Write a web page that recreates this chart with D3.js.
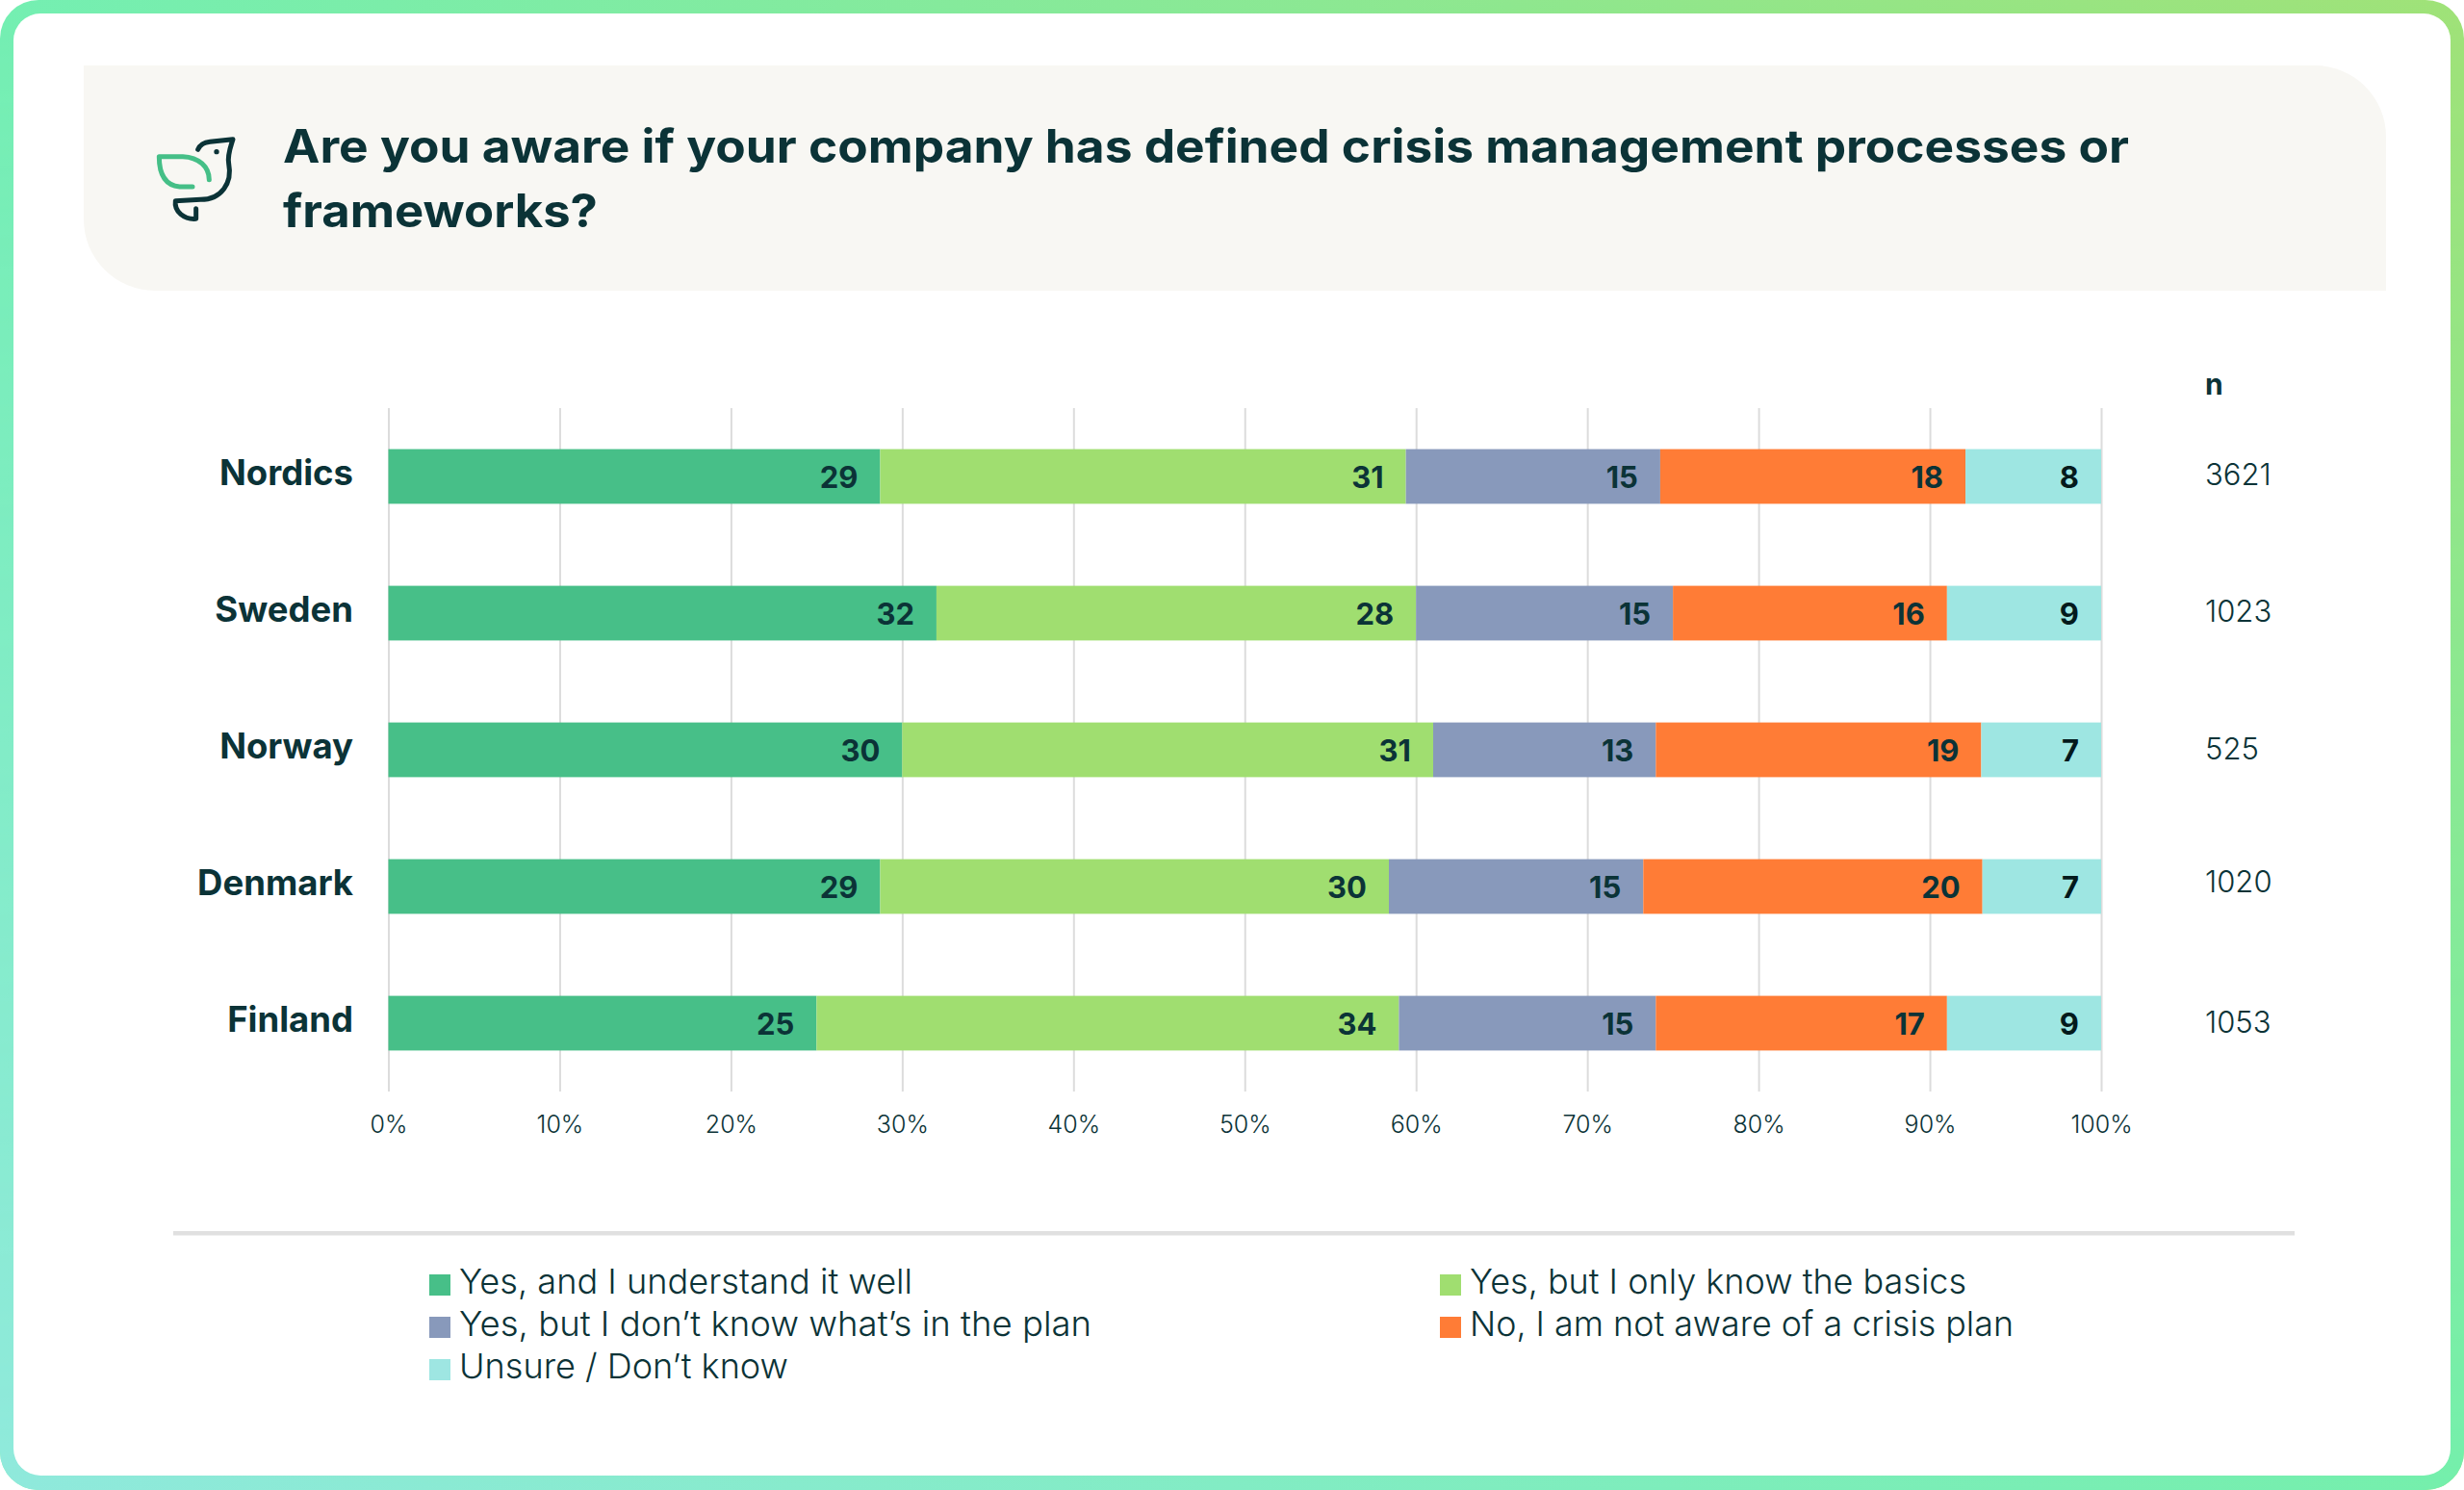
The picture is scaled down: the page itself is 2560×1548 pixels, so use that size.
<!DOCTYPE html>
<html>
<head>
<meta charset="utf-8">
<script src="https://cdnjs.cloudflare.com/ajax/libs/d3/7.8.5/d3.min.js"></script>
<style>
  html, body { margin: 0; padding: 0; background: #fff; }
  svg { display: block; }
  text { font-family: "Inter", "Noto Sans", sans-serif; fill: #0b3337; }
</style>
</head>
<body>
<svg id="chart" width="2560" height="1548"></svg>
<script>
// Survey results: one row per market, answers as shares of the row total
const countries = ["Nordics", "Sweden", "Norway", "Denmark", "Finland"];
const answers = [
  "Yes, and I understand it well",
  "Yes, but I only know the basics",
  "Yes, but I don\u2019t know what\u2019s in the plan",
  "No, I am not aware of a crisis plan",
  "Unsure / Don\u2019t know"
];
const understandWell = [29, 32, 30, 29, 25];
const knowBasics = [31, 28, 31, 30, 34];
const dontKnowPlan = [15, 15, 13, 15, 15];
const notAware = [18, 16, 19, 20, 17];
const unsure = [8, 9, 7, 7, 9];
const respondents = [3621, 1023, 525, 1020, 1053];
const answerColors = ["#47bf88", "#a0de70", "#8899bb", "#ff7c36", "#9ee6e2"];
const titleLines = [
  "Are you aware if your company has defined crisis management processes or",
  "frameworks?"
];

const ink = "#0b3337";
const svg = d3.select("#chart");
const defs = svg.append("defs");

function hGradient(id, from, to) {
  const g = defs.append("linearGradient").attr("id", id);
  g.append("stop").attr("offset", "0%").attr("stop-color", from);
  g.append("stop").attr("offset", "100%").attr("stop-color", to);
}
hGradient("frameTop", "#74efb2", "#a0e278");
hGradient("frameBottom", "#90e9dc", "#74efac");
const fade = defs.append("linearGradient").attr("id", "frameFade")
  .attr("x1", 0).attr("y1", 0).attr("x2", 0).attr("y2", 1);
fade.append("stop").attr("offset", "0%").attr("stop-color", "#000");
fade.append("stop").attr("offset", "100%").attr("stop-color", "#fff");
defs.append("mask").attr("id", "frameMask")
  .attr("maskUnits", "userSpaceOnUse")
  .attr("x", 0).attr("y", 0).attr("width", 2560).attr("height", 1548)
  .append("rect").attr("width", 2560).attr("height", 1548).attr("fill", "url(#frameFade)");

// Gradient frame and white card
svg.append("rect").attr("width", 2560).attr("height", 1548).attr("rx", 40).attr("fill", "url(#frameTop)");
svg.append("rect").attr("width", 2560).attr("height", 1548).attr("rx", 40)
  .attr("fill", "url(#frameBottom)").attr("mask", "url(#frameMask)");
svg.append("rect").attr("x", 14).attr("y", 14).attr("width", 2532).attr("height", 1519)
  .attr("rx", 28).attr("fill", "#fff");

// Title band, rounded on two opposite corners
const band = { x0: 87, y0: 68, x1: 2479, y1: 302, r: 74 };
const bandPath = d3.path();
bandPath.moveTo(band.x0, band.y0);
bandPath.lineTo(band.x1 - band.r, band.y0);
bandPath.arcTo(band.x1, band.y0, band.x1, band.y0 + band.r, band.r);
bandPath.lineTo(band.x1, band.y1);
bandPath.lineTo(band.x0 + band.r, band.y1);
bandPath.arcTo(band.x0, band.y1, band.x0, band.y1 - band.r, band.r);
bandPath.closePath();
svg.append("path").attr("d", bandPath.toString()).attr("fill", "#f8f7f3");

// Bird emblem
const emblem = svg.append("g").attr("transform", "translate(140,120) scale(0.3333)")
  .attr("fill", "none").attr("stroke-width", 15).attr("stroke-linecap", "round").attr("stroke-linejoin", "round");
emblem.append("path").attr("stroke", "#45bf87")
  .attr("d", "M180,222 L140,222 C100,218 76,190 76,128 L150,128 C200,130 232,160 232,200");
emblem.append("path").attr("stroke", ink)
  .attr("d", "M197,106 C205,88 218,84 235,82 L306,74 C298,100 288,125 293,150 C305,210 270,262 205,262 L127,266 C122,300 155,325 191,322 L191,290");
emblem.append("circle").attr("cx", 255).attr("cy", 113).attr("r", 8).attr("fill", ink).attr("stroke", "none");

svg.selectAll("text.title").data(titleLines).join("text")
  .attr("class", "title")
  .attr("x", 294)
  .attr("y", (d, i) => 169 + i * 67)
  .attr("font-size", 48)
  .attr("font-weight", 700)
  .attr("textLength", (d, i) => [1918, 327][i])
  .attr("lengthAdjust", "spacingAndGlyphs")
  .text(d => d);

// Scales
const x = d3.scaleLinear().domain([0, 1]).range([403.5, 2183]);
const y = d3.scaleBand().domain(countries).range([424, 1134]).paddingInner(0.6).paddingOuter(0.3);

// Percent axis with full-height gridlines
const axis = d3.axisBottom(x)
  .tickValues(d3.range(0, 11).map(d => d / 10))
  .tickFormat(d3.format(".0%"))
  .tickSize(-710)
  .tickPadding(25);
const axisG = svg.append("g").attr("transform", "translate(0,1134)").call(axis);
axisG.select(".domain").remove();
axisG.selectAll("line").attr("stroke", "#dcdcdc").attr("stroke-width", 2);
axisG.selectAll("text").attr("font-size", 25).attr("font-weight", 300)
  .attr("font-family", "Inter").attr("fill", ink);

// Stacked bars, normalised per row
const rows = countries.map((c, i) => ({
  country: c,
  a0: understandWell[i], a1: knowBasics[i], a2: dontKnowPlan[i], a3: notAware[i], a4: unsure[i]
}));
const keys = ["a0", "a1", "a2", "a3", "a4"];
const stacked = d3.stack().keys(keys).offset(d3.stackOffsetExpand)(rows);

const layers = svg.selectAll("g.layer").data(stacked).join("g")
  .attr("class", "layer")
  .attr("fill", (d, i) => answerColors[i]);
layers.selectAll("rect").data(d => d).join("rect")
  .attr("x", d => x(d[0]))
  .attr("y", d => y(d.data.country))
  .attr("width", d => x(d[1]) - x(d[0]))
  .attr("height", y.bandwidth());

// Value labels sit inside the right end of each segment
stacked.forEach((layer, li) => {
  svg.append("g").selectAll("text").data(layer).join("text")
    .attr("x", d => x(d[1]) - 23)
    .attr("y", d => y(d.data.country) + y.bandwidth() / 2 + 12)
    .attr("text-anchor", "end")
    .attr("font-size", 31)
    .attr("font-weight", 700)
    .style("fill", li === 4 ? "#041a1c" : ink)
    .text(d => d.data[layer.key]);
});

// Market names
svg.append("g").selectAll("text").data(countries).join("text")
  .attr("x", 367)
  .attr("y", d => y(d) + y.bandwidth() / 2 + 9)
  .attr("text-anchor", "end")
  .attr("font-size", 36.5)
  .attr("font-weight", 700)
  .text(d => d);

// Sample sizes; the Denmark figure sits a little above its row centre
const sampleShift = [0, 0, 1, -3, 1];
svg.append("text").attr("x", 2291).attr("y", 410)
  .attr("font-size", 30).attr("font-weight", 700).text("n");
svg.append("g").selectAll("text").data(respondents).join("text")
  .attr("x", 2291)
  .attr("y", (d, i) => y(countries[i]) + y.bandwidth() / 2 + 9 + sampleShift[i])
  .attr("font-size", 31)
  .attr("font-weight", 300)
  .text(d => d);

// Divider above the legend
svg.append("rect").attr("x", 180).attr("y", 1279).attr("width", 2204).attr("height", 4.5).attr("fill", "#e0e0e0");

// Legend: two columns, filled row by row
const legendColX = [446, 1496];
const legendWidths = [471, 516, 657, 565, 342];
const legend = svg.append("g").selectAll("g").data(answers).join("g")
  .attr("transform", (d, i) => `translate(${legendColX[i % 2]},${1324 + Math.floor(i / 2) * 44})`);
legend.append("rect").attr("width", 22).attr("height", 22).attr("fill", (d, i) => answerColors[i]);
legend.append("text").attr("x", 31).attr("y", 20)
  .attr("font-size", 36).attr("font-weight", 300)
  .attr("textLength", (d, i) => legendWidths[i])
  .attr("lengthAdjust", "spacingAndGlyphs")
  .text(d => d);
</script>
</body>
</html>
